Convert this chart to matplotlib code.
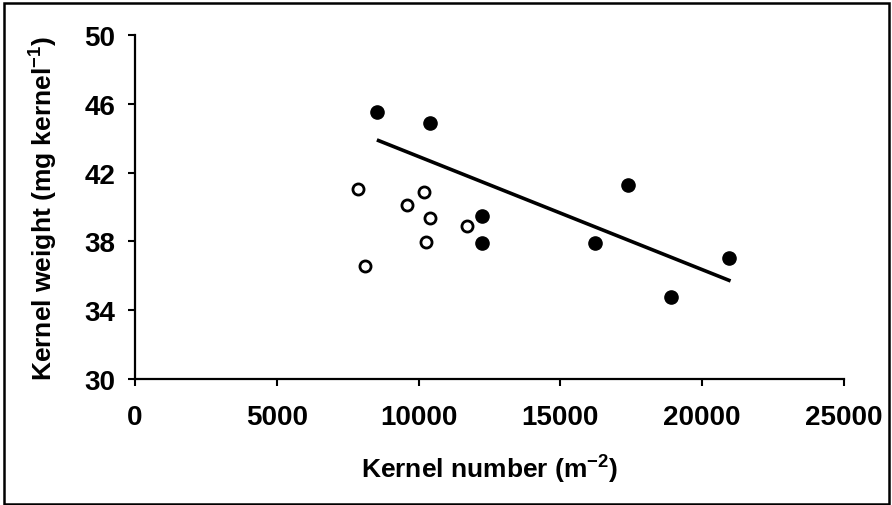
import matplotlib.pyplot as plt
from matplotlib.patches import Rectangle

plt.rcParams['font.family'] = ['Liberation Sans', 'DejaVu Sans']
plt.rcParams['font.weight'] = 'bold'
plt.rcParams['mathtext.fontset'] = 'custom'
plt.rcParams['mathtext.rm'] = 'Liberation Sans:bold'
plt.rcParams['mathtext.bf'] = 'Liberation Sans:bold'

# filled symbols
filled_x = [8530, 10400, 12230, 12230, 16230, 17390, 18890, 20950]
filled_y = [45.5, 44.9, 39.5, 37.9, 37.9, 41.3, 34.75, 37.05]
# open symbols
open_x = [7870, 8110, 9600, 10200, 10250, 10410, 11690]
open_y = [41.05, 36.55, 40.1, 40.85, 37.95, 39.35, 38.9]
# regression line end points
trend_x = [8530, 21000]
trend_y = [43.9, 35.7]

xticks = [0, 5000, 10000, 15000, 20000, 25000]
yticks = [30, 34, 38, 42, 46, 50]

fig = plt.figure(figsize=(8.92, 5.06), dpi=100)
ax = fig.add_axes([0.1513, 0.249, 0.7949, 0.6799])

ax.plot(trend_x, trend_y, color='black', lw=2.6, solid_capstyle='butt', zorder=2)
ax.plot(filled_x, filled_y, 'o', color='black', ms=9.5, zorder=3)
ax.plot(open_x, open_y, 'o', mfc='white', mec='black', mew=2, ms=8, zorder=3)

ax.set_xlim(0, 25000)
ax.set_ylim(30, 50)
ax.set_xticks(xticks)
ax.set_yticks(yticks)
ax.tick_params(axis='both', direction='out', length=5, width=1.5, labelsize=20)
ax.tick_params(axis='x', pad=13)
ax.tick_params(axis='y', pad=9)
for s in ['top', 'right']:
    ax.spines[s].set_visible(False)
for s in ['left', 'bottom']:
    ax.spines[s].set_linewidth(1.6)

ax.set_xlabel('Kernel number (m$^{-2}$)', fontsize=19, fontweight='bold')
ax.set_ylabel('Kernel weight (mg kernel$^{-1}$)', fontsize=19, fontweight='bold')
ax.xaxis.set_label_coords(0.5, -0.21)
ax.yaxis.set_label_coords(-0.107, 0.5)

fig.patches.append(Rectangle((0.004, 0.002), 0.993, 0.99, transform=fig.transFigure,
                             fill=False, edgecolor='black', lw=1.8))

plt.savefig('out.png', dpi=100)
